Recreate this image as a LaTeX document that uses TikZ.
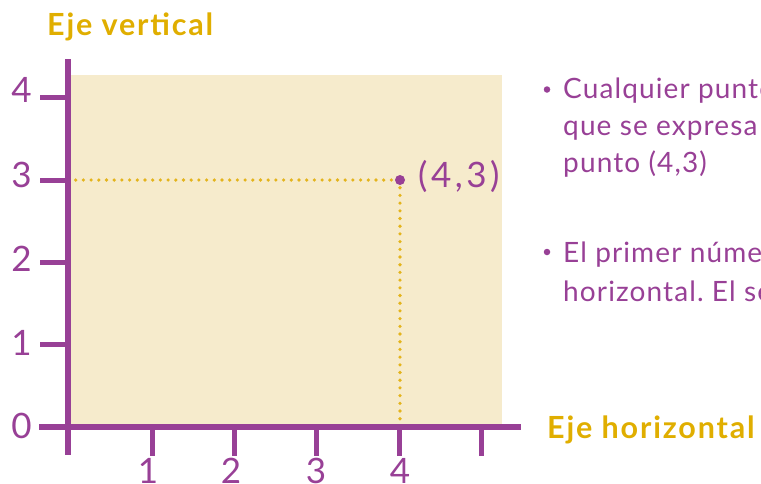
\documentclass[tikz,border=0pt]{standalone}
\usepackage{fontspec}
\setmainfont{Lato}
\newfontfamily\spacedfont[LetterSpace=4]{Lato}
\newfontfamily\labelfont[LetterSpace=6]{Lato}
\newfontfamily\pairfont[LetterSpace=10]{Lato}
\frenchspacing
\definecolor{axpurple}{RGB}{152,64,150}
\definecolor{lblgold}{RGB}{224,174,0}
\definecolor{dotgold}{RGB}{228,180,28}
\definecolor{planebg}{RGB}{246,235,204}
\tikzset{
  axisline/.style={draw=axpurple, line width=5.5pt},
  tickline/.style={draw=axpurple, line width=5pt},
  guide/.style={draw=dotgold, line width=3.6pt, line cap=round, dash pattern=on 0pt off 7.7pt},
  num/.style={text=axpurple, font=\fontsize{35}{35}\selectfont, inner sep=0pt, anchor=base},
  body/.style={text=axpurple, font=\spacedfont\fontsize{28}{28}\selectfont, inner sep=0pt, anchor=base west},
  axlabel/.style={text=lblgold, font=\labelfont\bfseries\fontsize{30.5}{30.5}\selectfont, inner sep=0pt, anchor=base west},
  bulletdot/.style={fill=axpurple, circle, minimum size=6.5pt, inner sep=0pt}
}
\begin{document}
\begin{tikzpicture}[x=1pt,y=-1pt]
\useasboundingbox (0,0) rectangle (761,483);
\begin{scope}
\clip (0,0) rectangle (761,483);
% plane background
\fill[planebg] (68,75) rectangle (502,427);
% coordinates
\coordinate (O) at (68,427);
\coordinate (ytop) at (68,59);
\coordinate (ybot) at (68,455);
\coordinate (xleft) at (39,427);
\coordinate (xright) at (521,427);
\coordinate (P) at (400,180);
\coordinate (Py) at (68,180);
\coordinate (Px) at (400,427);
% guides
\draw[guide] (Py) -- (P);
\draw[guide] (P) -- (Px);
% axes
\draw[axisline] (ytop) -- (ybot);
\draw[axisline] (xleft) -- (xright);
% y ticks
\foreach \yy in {97.3,180,262.3,344.6} \draw[tickline] (40,\yy) -- (68,\yy);
% x ticks
\foreach \xx in {152,234.3,316.7,399.3,481.7} \draw[tickline] (\xx,427) -- (\xx,456);
% point
\node[fill=axpurple, circle, minimum size=10pt, inner sep=0pt] (pt) at (P) {};
\node[text=axpurple, font=\pairfont\fontsize{35}{35}\selectfont, inner sep=0pt, anchor=base west] (plabel) at (418,187) {(4,3)};
% y numbers
\node[num] (y4) at (21.5,102) {4};
\node[num] (y3) at (21.5,187) {3};
\node[num] (y2) at (21.5,271) {2};
\node[num] (y1) at (21.5,355) {1};
\node[num] (y0) at (21.5,438) {0};
% x numbers
\node[num] (x1) at (148,483) {1};
\node[num] (x2) at (231,483) {2};
\node[num] (x3) at (316,483) {3};
\node[num] (x4) at (400,483) {4};
% axis labels
\node[axlabel] (ev) at (47,35) {Eje vertical};
\node[axlabel] (eh) at (547,438) {Eje horizontal};
% bullet text
\node[bulletdot] (b1) at (547,89.5) {};
\node[body] (t1) at (563,98) {Cualquier punto};
\node[body] (t2) at (563,135) {que se expresa};
\node[body] (t3) at (563,172) {punto (4,3)};
\node[bulletdot] (b2) at (547,252) {};
\node[body] (t4) at (563,262) {El primer número};
\node[body] (t5) at (563,301) {horizontal. El segundo};
\end{scope}
\end{tikzpicture}
\end{document}
